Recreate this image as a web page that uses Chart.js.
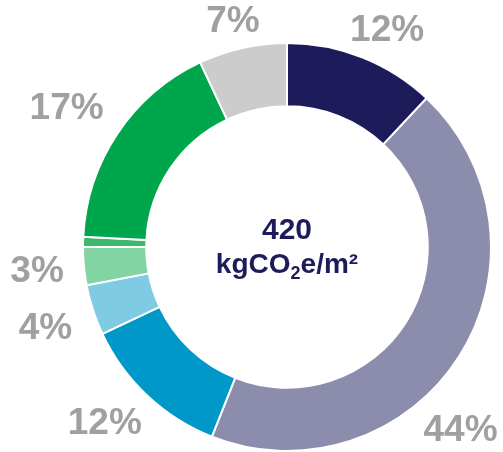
<!DOCTYPE html>
<html>
<head>
<meta charset="utf-8">
<script src="https://cdn.jsdelivr.net/npm/chart.js@4"></script>
<style>
  html, body { margin: 0; padding: 0; background: #fff; }
  #wrap { position: relative; width: 503px; height: 452px; }
</style>
</head>
<body>
<div id="wrap"><canvas id="chart"></canvas></div>
<script>
// slices, clockwise from 12 o'clock
const categories = ["A", "B", "C", "D", "E", "F", "G", "H"];
const shares = [12, 44, 12, 4, 3, 0.8, 17.2, 7];
const shareLabels = ["12%", "44%", "12%", "4%", "3%", "", "17%", "7%"];
const sliceColors = ["#1e1b5b", "#8c8cac", "#0097c9", "#7fcbe3", "#82d4a2", "#3db86d", "#00a64b", "#cccccc"];
const totalValue = "420";
const totalUnit = ["kgCO", "2", "e/m²"];

// nudges for the percent labels, relative to the slice mid angle
const labelNudge = [[14, 1], [-24, 58], [-22, 6], [-19, 9], [-17, 3], [0, 0], [-26, -8], [-3, 3]];

/**
 * Draws the percent labels outside the ring and the total in the hole.
 */
const ringText = {
    id: "ringText",
    afterDatasetsDraw(chart) {
        const ctx = chart.ctx;
        const arcs = chart.getDatasetMeta(0).data;
        ctx.save();
        ctx.textAlign = "center";
        ctx.textBaseline = "middle";
        ctx.fillStyle = "#a0a0a0";
        ctx.font = "bold 37px 'Liberation Sans', Arial, sans-serif";
        arcs.forEach((arc, i) => {
            if (!shareLabels[i]) return;
            const p = arc.getProps(["x", "y", "startAngle", "endAngle", "outerRadius"], true);
            const mid = (p.startAngle + p.endAngle) / 2;
            const r = p.outerRadius + 30;
            const x = p.x + Math.cos(mid) * r + labelNudge[i][0];
            const y = p.y + Math.sin(mid) * r + labelNudge[i][1];
            ctx.fillText(shareLabels[i], x, y);
        });

        const c = arcs[0];
        ctx.fillStyle = "#1e1b5b";
        ctx.font = "bold 30px 'Liberation Sans', Arial, sans-serif";
        ctx.fillText(totalValue, c.x, c.y - 16);

        // unit line with subscript 2
        const big = "bold 28px 'Liberation Sans', Arial, sans-serif";
        const small = "bold 18px 'Liberation Sans', Arial, sans-serif";
        ctx.font = big;
        const w0 = ctx.measureText(totalUnit[0]).width;
        const w2 = ctx.measureText(totalUnit[2]).width;
        ctx.font = small;
        const w1 = ctx.measureText(totalUnit[1]).width;
        let x = c.x - (w0 + w1 + w2) / 2;
        const y = c.y + 18;
        ctx.textAlign = "left";
        ctx.font = big;
        ctx.fillText(totalUnit[0], x, y);
        x += w0;
        ctx.font = small;
        ctx.fillText(totalUnit[1], x, y + 9);
        x += w1;
        ctx.font = big;
        ctx.fillText(totalUnit[2], x, y);
        ctx.restore();
    }
};

new Chart(document.getElementById("chart"), {
    type: "doughnut",
    data: {
        labels: categories,
        datasets: [{
            data: shares,
            backgroundColor: sliceColors,
            borderColor: "#ffffff",
            borderWidth: 2
        }]
    },
    options: {
        responsive: true,
        maintainAspectRatio: false,
        animation: false,
        cutout: "69%",
        layout: { padding: { top: 42, bottom: 0, left: 82, right: 11 } },
        plugins: {
            legend: { display: false },
            tooltip: { enabled: false }
        }
    },
    plugins: [ringText]
});
</script>
</body>
</html>
